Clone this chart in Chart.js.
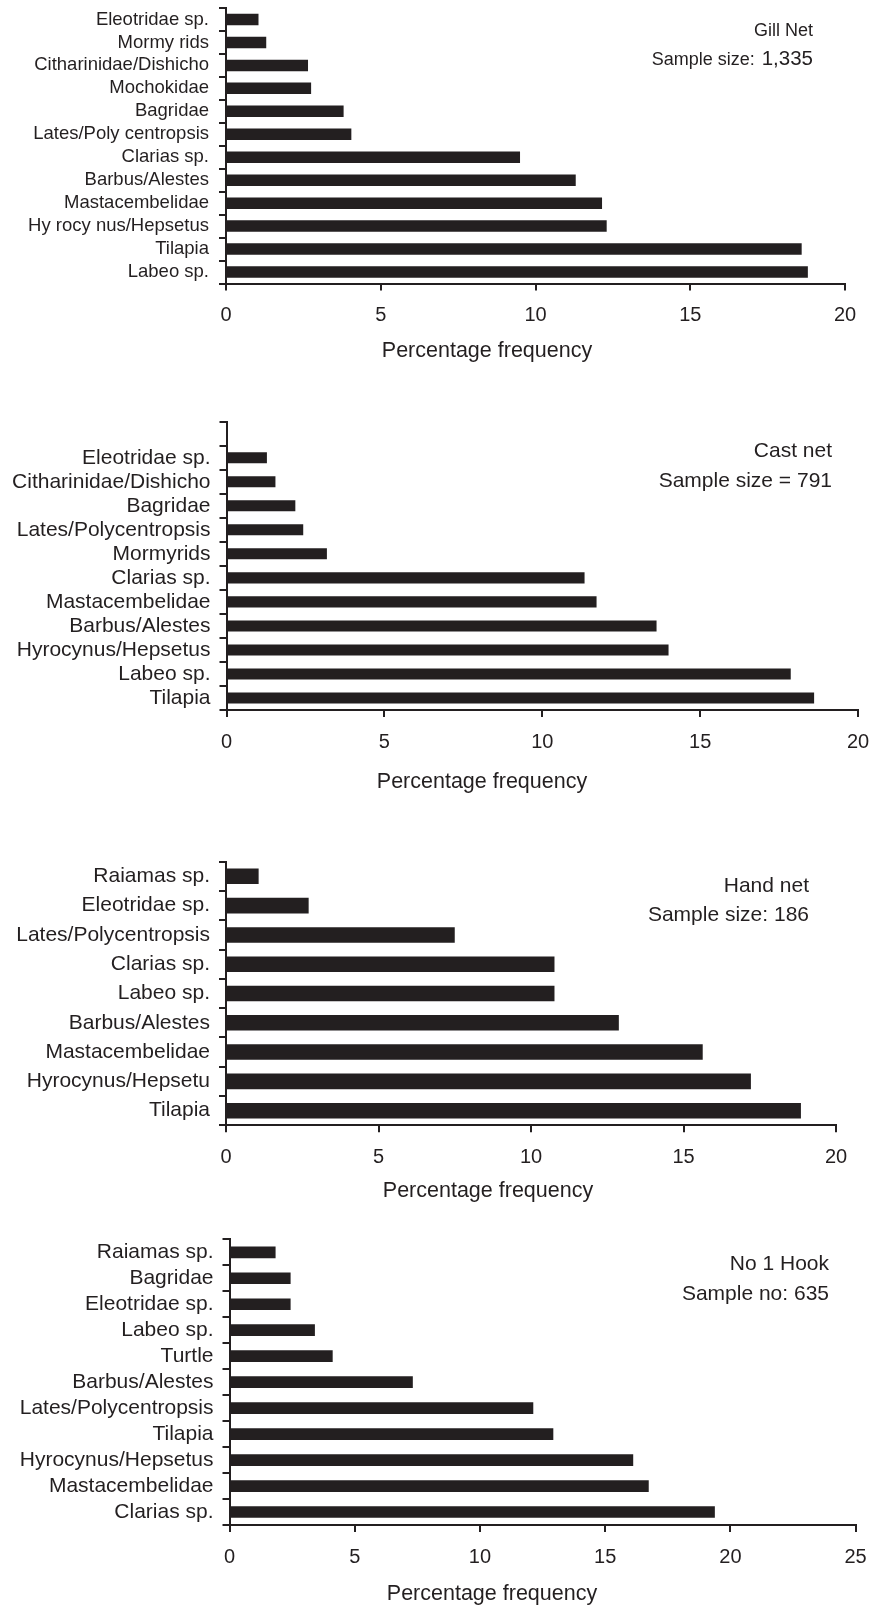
<!DOCTYPE html>
<html>
<head>
<meta charset="utf-8">
<script src="https://cdn.jsdelivr.net/npm/chart.js@4/dist/chart.umd.min.js"></script>
<style>
  html, body { margin: 0; padding: 0; background: #fff; }
  body { width: 870px; height: 1606px; position: relative; overflow: hidden; }
  canvas { position: absolute; left: 0; }
</style>
</head>
<body>
<canvas id="gill" width="870" height="375" style="top:0px"></canvas>
<canvas id="cast" width="870" height="410" style="top:390px"></canvas>
<canvas id="hand" width="870" height="375" style="top:835px"></canvas>
<canvas id="hook" width="870" height="391" style="top:1215px"></canvas>
<script>
// Catch composition by gear type (percentage frequency of each taxon)
const gillLabels = ['Eleotridae sp.', 'Mormy rids', 'Citharinidae/Dishicho', 'Mochokidae', 'Bagridae',
  'Lates/Poly centropsis', 'Clarias sp.', 'Barbus/Alestes', 'Mastacembelidae', 'Hy rocy nus/Hepsetus',
  'Tilapia', 'Labeo sp.'];
const gillValues = [1.05, 1.3, 2.65, 2.75, 3.8, 4.05, 9.5, 11.3, 12.15, 12.3, 18.6, 18.8];

const castLabels = ['', 'Eleotridae sp.', 'Citharinidae/Dishicho', 'Bagridae', 'Lates/Polycentropsis',
  'Mormyrids', 'Clarias sp.', 'Mastacembelidae', 'Barbus/Alestes', 'Hyrocynus/Hepsetus',
  'Labeo sp.', 'Tilapia'];
const castValues = [null, 1.28, 1.55, 2.18, 2.43, 3.18, 11.34, 11.72, 13.62, 14.0, 17.87, 18.61];

const handLabels = ['Raiamas sp.', 'Eleotridae sp.', 'Lates/Polycentropsis', 'Clarias sp.', 'Labeo sp.',
  'Barbus/Alestes', 'Mastacembelidae', 'Hyrocynus/Hepsetu', 'Tilapia'];
const handValues = [1.07, 2.71, 7.5, 10.77, 10.77, 12.88, 15.63, 17.21, 18.85];

const hookLabels = ['Raiamas sp.', 'Bagridae', 'Eleotridae sp.', 'Labeo sp.', 'Turtle', 'Barbus/Alestes',
  'Lates/Polycentropsis', 'Tilapia', 'Hyrocynus/Hepsetus', 'Mastacembelidae', 'Clarias sp.'];
const hookValues = [1.84, 2.44, 2.44, 3.41, 4.12, 7.32, 12.13, 12.93, 16.12, 16.74, 19.38];

const xTitle = 'Percentage frequency';

const INK = '#231f20';
const FONT = "'Liberation Sans', Arial, Helvetica, sans-serif";

// Free text drawn on top of each chart: gear name, sample size, axis title.
const textPlugin = {
  id: 'freeText',
  afterDraw(chart, args, opts) {
    const ctx = chart.ctx;
    ctx.save();
    ctx.fillStyle = INK;
    ctx.textBaseline = 'alphabetic';
    (opts.items || []).forEach(it => {
      if (it.parts) {
        // right-aligned run of pieces with different sizes
        let x = it.x;
        for (let i = it.parts.length - 1; i >= 0; i--) {
          const p = it.parts[i];
          ctx.font = p.size + 'px ' + FONT;
          ctx.textAlign = 'right';
          ctx.fillText(p.text, x, it.y);
          x -= ctx.measureText(p.text).width;
          if (i > 0) x -= (it.parts[i - 1].gap || 0);
        }
      } else {
        ctx.textAlign = it.align || 'right';
        ctx.font = it.size + 'px ' + FONT;
        ctx.fillText(it.text, it.x, it.y);
      }
    });
    ctx.restore();
  }
};

function makeChart(id, cfg) {
  const canvasTop = cfg.canvasTop;
  const H = document.getElementById(id).height;
  const padTop = cfg.axisTop - canvasTop;
  const xh = canvasTop + H - cfg.axisY;
  return new Chart(document.getElementById(id), {
    type: 'bar',
    data: {
      labels: cfg.labels,
      datasets: [{
        data: cfg.values,
        backgroundColor: INK,
        borderWidth: 0,
        barPercentage: cfg.barPct,
        categoryPercentage: 1
      }]
    },
    plugins: [textPlugin],
    options: {
      indexAxis: 'y',
      responsive: false,
      animation: false,
      devicePixelRatio: 1,
      layout: { padding: { top: padTop, right: 870 - cfg.xRight, bottom: 0, left: 0 } },
      plugins: {
        legend: { display: false },
        tooltip: { enabled: false },
        freeText: { items: cfg.texts }
      },
      scales: {
        y: {
          type: 'category',
          offset: true,
          grid: {
            offset: true,
            drawOnChartArea: false,
            drawTicks: true,
            tickLength: 7,
            color: INK,
            lineWidth: 2
          },
          border: { display: true, color: INK, width: 2 },
          ticks: {
            color: INK,
            padding: cfg.labelPad,
            autoSkip: false,
            font: { family: FONT, size: cfg.labelSize }
          },
          afterFit(scale) {
            scale.width = cfg.axisX;
            scale.paddingTop = 0;
            scale.paddingBottom = 0;
          }
        },
        x: {
          type: 'linear',
          min: 0,
          max: cfg.xMax,
          grid: {
            drawOnChartArea: false,
            drawTicks: true,
            tickLength: 7,
            color: INK,
            lineWidth: 2
          },
          border: { display: true, color: INK, width: 2 },
          ticks: {
            stepSize: 5,
            color: INK,
            padding: 13,
            font: { family: FONT, size: 20 }
          },
          afterFit(scale) {
            scale.height = xh;
            scale.paddingLeft = 0;
            scale.paddingRight = 0;
          }
        }
      }
    }
  });
}

makeChart('gill', {
  canvasTop: 0, axisTop: 8, axisY: 283.5, axisX: 226, xRight: 845, xMax: 20,
  labels: gillLabels, values: gillValues, barPct: 0.5, labelSize: 18.5, labelPad: 10,
  texts: [
    { text: 'Gill Net', x: 813, y: 36, size: 18 },
    { parts: [{ text: 'Sample size:', size: 18, gap: 7 }, { text: '1,335', size: 20.5 }], x: 813, y: 65 },
    { text: xTitle, x: 487, y: 357, size: 21.5, align: 'center' }
  ]
});

makeChart('cast', {
  canvasTop: 390, axisTop: 421.7, axisY: 710, axisX: 226.5, xRight: 858, xMax: 20,
  labels: castLabels, values: castValues, barPct: 0.46, labelSize: 21, labelPad: 9,
  texts: [
    { text: 'Cast net', x: 832, y: 456.5 - 390, size: 21 },
    { text: 'Sample size = 791', x: 832, y: 486.5 - 390, size: 21 },
    { text: xTitle, x: 482, y: 788 - 390, size: 21.5, align: 'center' }
  ]
});

makeChart('hand', {
  canvasTop: 835, axisTop: 861.7, axisY: 1125.3, axisX: 226, xRight: 836, xMax: 20,
  labels: handLabels, values: handValues, barPct: 0.53, labelSize: 21, labelPad: 9,
  texts: [
    { text: 'Hand net', x: 809, y: 891.5 - 835, size: 21 },
    { text: 'Sample size: 186', x: 809, y: 921 - 835, size: 21 },
    { text: xTitle, x: 488, y: 1196.5 - 835, size: 21.5, align: 'center' }
  ]
});

makeChart('hook', {
  canvasTop: 1215, axisTop: 1239.3, axisY: 1525, axisX: 229.5, xRight: 855.6, xMax: 25,
  labels: hookLabels, values: hookValues, barPct: 0.45, labelSize: 21, labelPad: 9,
  texts: [
    { text: 'No 1 Hook', x: 829, y: 1270 - 1215, size: 21 },
    { text: 'Sample no: 635', x: 829, y: 1300 - 1215, size: 21 },
    { text: xTitle, x: 492, y: 1600 - 1215, size: 21.5, align: 'center' }
  ]
});
</script>
</body>
</html>
